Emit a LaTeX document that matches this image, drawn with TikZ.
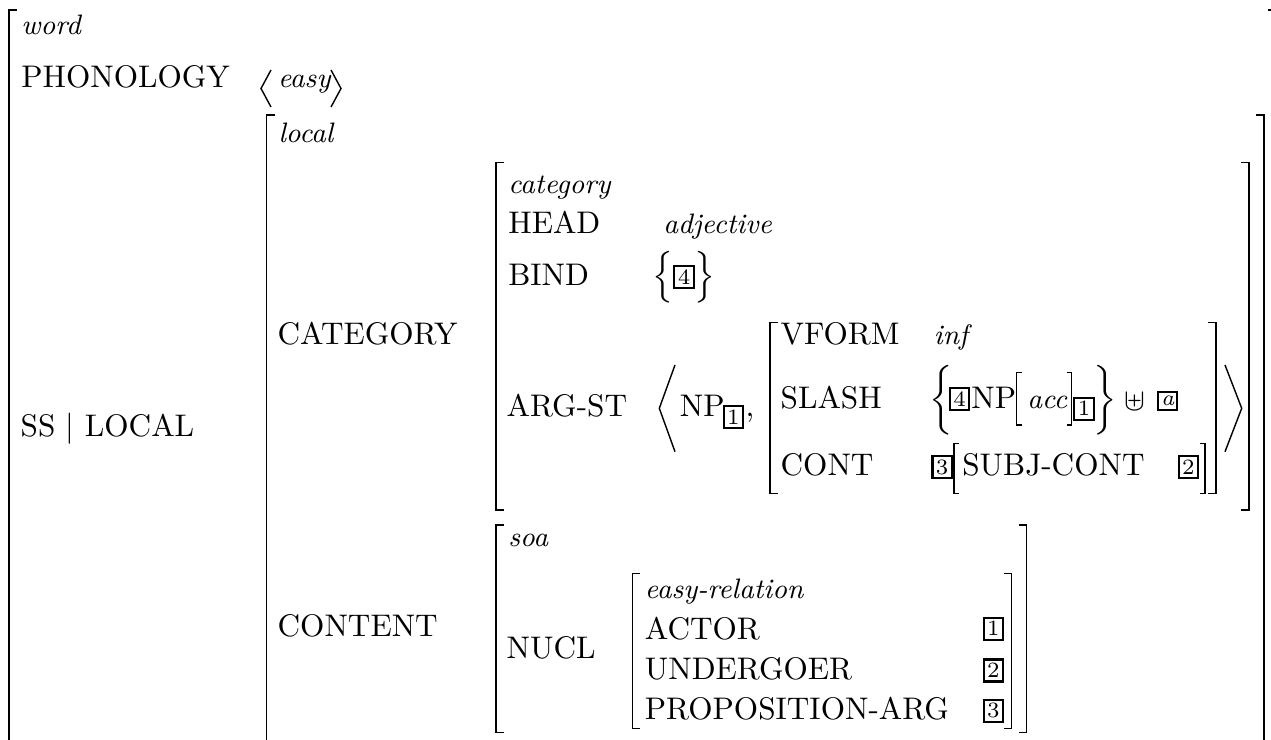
\documentclass[tikz,border=0pt]{standalone}
\newcommand\itf{\fontsize{9pt}{11pt}\selectfont\itshape}
\newcommand\avmLB[3]{\draw[brk] (#1,#2) ++(8,0) -- ++(-8,0) -- (#1,#3) -- ++(8,0);}
\newcommand\avmRB[3]{\draw[brk] (#1,#2) ++(-8,0) -- ++(8,0) -- (#1,#3) -- ++(-8,0);}
\newcommand\avmLBs[3]{\draw[thinl] (#1,#2) ++(5,0) -- ++(-5,0) -- (#1,#3) -- ++(5,0);}
\newcommand\avmRBs[3]{\draw[thinl] (#1,#2) ++(-5,0) -- ++(5,0) -- (#1,#3) -- ++(-5,0);}
\begin{document}
\begin{tikzpicture}[x=0.32pt,y=-0.32pt,
  txt/.style={anchor=base west,inner sep=0pt,font=\normalsize},
  itx/.style={anchor=base west,inner sep=0pt,font=\itf},
  brk/.style={line width=0.5pt},
  thinl/.style={line width=0.45pt},
  delim/.style={inner sep=0pt},
  tagb/.style={draw,line width=0.7pt,inner sep=0pt,minimum width=6.2pt,minimum height=7pt,font=\scriptsize}]
\useasboundingbox (0,0) rectangle (1271,740);
\clip (0,0) rectangle (1271,740);
% outer matrix
\avmLB{9}{10}{780}
\draw[brk] (1268,10) -- (1280,10) -- (1280,780);
\node[itx] (word) at (20.7,35) {word};
\node[txt] (phon) at (20.7,87.3) {PHONOLOGY};
\draw[thinl] (271,70) -- (261,88.5) -- (271,107);
\node[itx] (easy) at (277.5,87.3) {easy};
\draw[thinl] (331,70) -- (341,88.5) -- (331,107);
\node[txt] (ssloc) at (20,436) {SS $|$ LOCAL};
% local
\avmLB{266.7}{115}{780}
\avmRB{1264}{115}{780}
\node[itx] (local) at (278,142.7) {local};
\node[txt] (cat) at (277,344) {CATEGORY};
\node[txt] (cont) at (277,636) {CONTENT};
% category
\avmLB{496}{162.7}{510}
\avmRB{1249}{162.7}{510}
\node[itx] (category) at (507.7,193.5) {category};
\node[txt] (head) at (507.7,233.3) {HEAD};
\node[itx] (adj) at (662.7,233.3) {adjective};
\node[txt] (bind) at (507.7,285.7) {BIND};
\node[delim] (lb1) at (663,277.5) {\scalebox{1}[0.92]{$\Big\{$}};
\node[tagb] (t4a) at (684,277) {4};
\node[delim] (rb1) at (705,277.5) {\scalebox{1}[0.92]{$\Big\}$}};
\node[txt] (argst) at (506,416) {ARG-ST};
\draw[thinl] (675,365) -- (659.3,408.3) -- (675,451.7);
\node[txt] (np1) at (679.3,416) {NP};
\node[tagb] (t1a) at (733.3,417.2) {1};
\node[txt] (comma) at (745,416) {,};
% vform matrix
\avmLB{770}{322.7}{493.3}
\avmRB{1216}{322.7}{493.3}
\node[txt] (vform) at (780,345) {VFORM};
\node[itx] (inf) at (933.3,345) {inf};
\node[txt] (slash) at (780,408.3) {SLASH};
\node[delim] (lb2) at (941,400) {\scalebox{1}[0.93]{$\bigg\{$}};
\node[tagb] (t4b) at (959.7,398.9) {4};
\node[txt] (np2) at (970.7,408.3) {NP};
\avmLBs{1016.7}{372.7}{425}
\node[itx] (acc) at (1026.7,408.3) {acc};
\avmRBs{1071.7}{372.7}{425}
\node[tagb] (t1b) at (1084,408.7) {1};
\node[delim] (rb2) at (1105.5,400) {\scalebox{1}[0.93]{$\bigg\}$}};
\node[inner sep=0pt] (uplus) at (1135,401.7) {$\uplus$};
\node[tagb,minimum height=5.8pt,font=\scriptsize\itshape] (ta) at (1167.7,400.9) {a};
\node[txt] (contl) at (780,475) {CONT};
\node[tagb] (t3a) at (942.2,467.2) {3};
\avmLBs{954}{443.3}{493.3}
\node[txt] (subjc) at (961.7,475) {SUBJ-CONT};
\node[tagb] (t2a) at (1188.3,467.2) {2};
\avmRBs{1205}{443.3}{493.3}
\draw[thinl] (1225,365) -- (1241.7,408.3) -- (1225,451.7);
% soa
\avmLB{496}{525}{732.7}
\avmRB{1026.7}{525}{732.7}
\node[itx] (soa) at (507.7,546.7) {soa};
\node[txt] (nucl) at (506,658) {NUCL};
% easy-relation
\avmLB{632.3}{573.3}{728.3}
\avmRB{1011.7}{573.3}{728.3}
\node[itx] (er) at (644.3,598) {easy-relation};
\node[txt] (actor) at (644.3,639) {ACTOR};
\node[tagb] (t1c) at (993.3,628.7) {1};
\node[txt] (und) at (644.3,679.5) {UNDERGOER};
\node[tagb] (t2b) at (993.3,670.5) {2};
\node[txt] (prop) at (644.3,719.5) {PROPOSITION-ARG};
\node[tagb] (t3b) at (993.3,710.8) {3};
\end{tikzpicture}
\end{document}
